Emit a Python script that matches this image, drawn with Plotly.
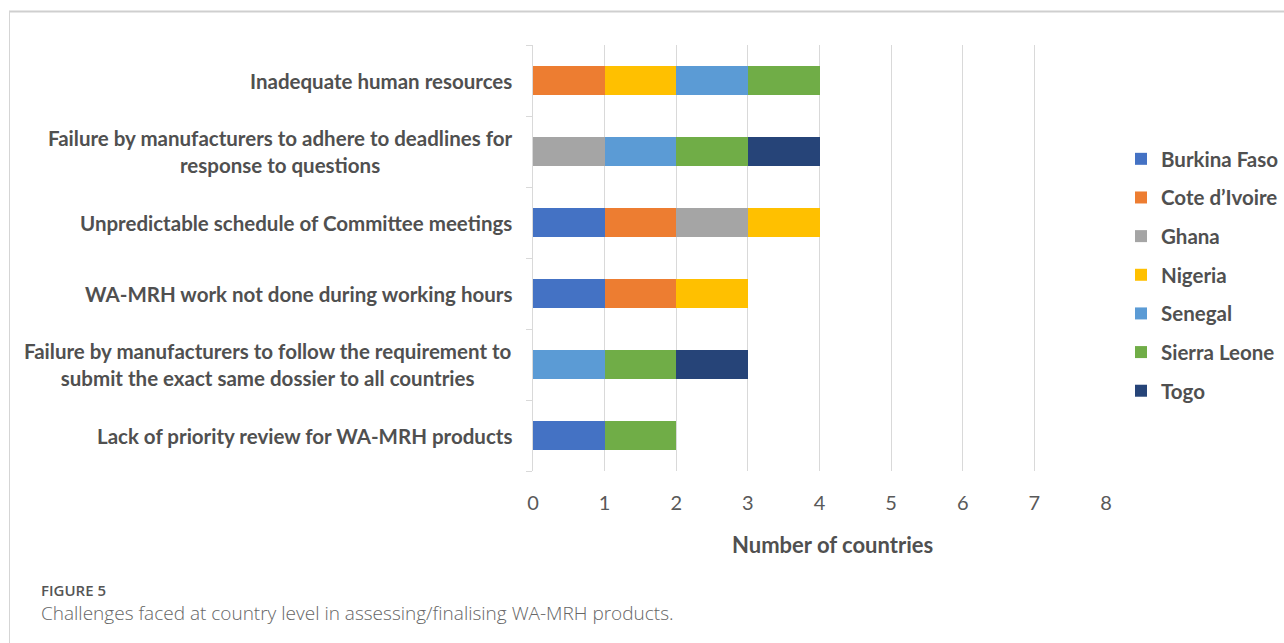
import plotly.graph_objects as go

# Challenges (top to bottom) and which countries reported each one
challenges = [
    "Inadequate human resources",
    "Failure by manufacturers to adhere to deadlines for<br>response to questions",
    "Unpredictable schedule of Committee meetings",
    "WA-MRH work not done during working hours",
    "Failure by manufacturers to follow the requirement to<br>submit the exact same dossier to all countries",
    "Lack of priority review for WA-MRH products",
]
countries = ["Burkina Faso", "Cote d\u2019Ivoire", "Ghana", "Nigeria",
             "Senegal", "Sierra Leone", "Togo"]

burkina_faso = [0, 0, 1, 1, 0, 1]
cote_divoire = [1, 0, 1, 1, 0, 0]
ghana = [0, 1, 1, 0, 0, 0]
nigeria = [1, 0, 1, 1, 0, 0]
senegal = [1, 1, 0, 0, 1, 0]
sierra_leone = [1, 1, 0, 0, 1, 1]
togo = [0, 1, 0, 0, 1, 0]
series = [burkina_faso, cote_divoire, ghana, nigeria, senegal, sierra_leone, togo]

colors = ["#4472C4", "#ED7D31", "#A5A5A5", "#FFC000",
          "#5B9BD5", "#70AD47", "#264478"]

x_ticks = [0, 1, 2, 3, 4, 5, 6, 7, 8]

W, H = 1284, 643
L, R, T, B = 533, 1106, 45, 471


def px_x(p):
    return (p - L) / (R - L)


def px_y(p):
    return (B - p) / (B - T)


fig = go.Figure()
for name, vals, col in zip(countries, series, colors):
    fig.add_trace(go.Bar(
        y=challenges, x=vals, name=name, orientation="h",
        marker=dict(color=col, line=dict(width=0)),
        legendgroup=name,
    ))

label_font = dict(family="Lato", size=20.5, color="#505050")

# category labels: right-aligned block, centred lines
for c in challenges:
    fig.add_annotation(
        x=px_x(514), xref="paper", y=c, yref="y",
        text="<b>%s</b>" % c, showarrow=False,
        xanchor="right", yanchor="middle", align="center",
        font=label_font,
    )

# x-axis title
fig.add_annotation(
    x=px_x(832), xref="paper", y=px_y(544), yref="paper",
    text="<b>Number of countries</b>", showarrow=False,
    xanchor="center", yanchor="middle",
    font=dict(family="Lato", size=22, color="#505050"),
)

# caption
fig.add_annotation(
    x=px_x(39), xref="paper", y=px_y(590), yref="paper",
    text="FIGURE 5", showarrow=False, xanchor="left", yanchor="middle",
    font=dict(family="Open Sans", size=15, color="#555555", weight=600),
)
fig.add_annotation(
    x=px_x(39), xref="paper", y=px_y(613), yref="paper",
    text="Challenges faced at country level in assessing/finalising WA-MRH products.",
    showarrow=False, xanchor="left", yanchor="middle",
    font=dict(family="Open Sans", size=19, color="#666666", weight=300),
)

# outer frame lines
fig.add_shape(type="line", xref="paper", yref="paper",
              x0=px_x(9), x1=px_x(W + 5), y0=px_y(11.5), y1=px_y(11.5),
              line=dict(color="#cfcfcf", width=2))
fig.add_shape(type="line", xref="paper", yref="paper",
              x0=px_x(9.5), x1=px_x(9.5), y0=px_y(11), y1=px_y(H + 5),
              line=dict(color="#d5d5d5", width=1))

fig.update_layout(
    width=W, height=H,
    margin=dict(l=L, r=W - R, t=T, b=H - B, pad=0, autoexpand=False),
    barmode="stack", bargap=0.6,
    paper_bgcolor="white", plot_bgcolor="white",
    font=dict(family="Lato", color="#595959"),
    showlegend=True,
    legend=dict(
        x=px_x(1121), y=px_y(139), xanchor="left", yanchor="top",
        traceorder="grouped", tracegroupgap=9,
        font=dict(family="Lato", size=20.5, color="#505050", weight="bold"),
        itemwidth=30, bgcolor="rgba(0,0,0,0)",
    ),
    xaxis=dict(
        range=[0, 8], tickvals=x_ticks, showgrid=True, gridcolor="#d9d9d9",
        gridwidth=1, zeroline=False, showline=False, ticks="",
        tickfont=dict(family="Lato", size=20, color="#595959"),
        ticklabelstandoff=18,
    ),
    yaxis=dict(
        categoryorder="array", categoryarray=challenges[::-1],
        autorange=False, range=[-0.5, 5.5],
        showticklabels=False, showgrid=False, zeroline=False,
        showline=True, linecolor="#d9d9d9", linewidth=1,
        ticks="outside", tickson="boundaries", ticklen=6, tickcolor="#d9d9d9",
    ),
)

fig.write_html("out.html")
